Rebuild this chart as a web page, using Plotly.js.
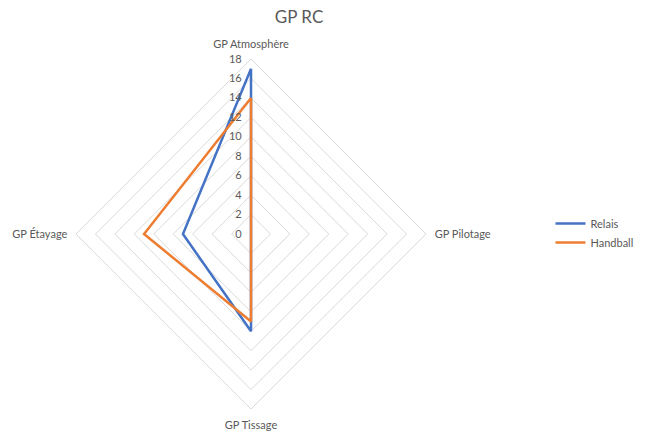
<!DOCTYPE html>
<html><head><meta charset="utf-8">
<script src="https://cdn.plot.ly/plotly-3.0.1.min.js"></script>
<style>html,body{margin:0;padding:0;background:#fff}#chart{width:653px;height:433px}</style>
</head><body><div id="chart"></div>
<script>
const categories = ["GP Atmosphère", "GP Pilotage", "GP Tissage", "GP Étayage"];
const relais = [17, 0, 10, 7];
const handball = [14, 0, 9, 11];
const radialTicks = [0, 2, 4, 6, 8, 10, 12, 14, 16, 18];

function closed(a){ return a.concat([a[0]]); }

const traces = [
  {type:'scatterpolar', mode:'lines', name:'Relais', r:closed(relais), theta:closed(categories),
   line:{color:'#4472C4', width:2.5}},
  {type:'scatterpolar', mode:'lines', name:'Handball', r:closed(handball), theta:closed(categories),
   line:{color:'#ED7D31', width:2.5}}
];

const layout = {
  width:653, height:433,
  margin:{l:0,r:0,t:0,b:0},
  paper_bgcolor:'#fff',
  font:{family:'Lato, "Liberation Sans", sans-serif', color:'#595959', size:11},
  title:{text:'GP RC', x:0.458, xanchor:'center', y:0.96, yanchor:'middle', font:{size:17, color:'#595959'}},
  showlegend:true,
  legend:{x:0.843, y:0.462, xanchor:'left', yanchor:'middle', font:{size:11, color:'#595959'}},
  polar:{
    domain:{x:[0.1164,0.6524], y:[0.0554,0.8637]},
    gridshape:'linear',
    bgcolor:'rgba(0,0,0,0)',
    radialaxis:{range:[0,18], tickvals:radialTicks, ticktext:radialTicks.map(String),
      angle:90, side:'counterclockwise', tickangle:90, showline:false, ticks:'outside', ticklen:5,
      tickcolor:'rgba(0,0,0,0)',
      gridcolor:'#d9d9d9', gridwidth:1, tickfont:{size:11, color:'#595959'}},
    angularaxis:{rotation:90, direction:'clockwise', showgrid:false, showline:true,
      linecolor:'#d9d9d9', linewidth:1, ticks:'outside', ticklen:6, tickcolor:'rgba(0,0,0,0)',
      tickfont:{size:11, color:'#595959'}}
  }
};
Plotly.newPlot('chart', traces, layout, {displayModeBar:false, staticPlot:true});
</script></body></html>
